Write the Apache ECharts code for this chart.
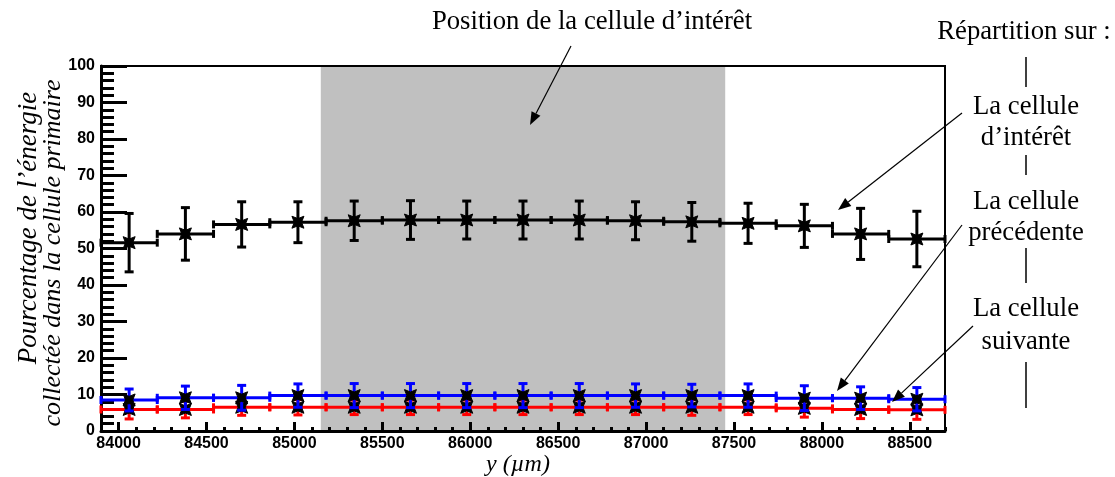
<!DOCTYPE html>
<html><head><meta charset="utf-8">
<script src="https://cdn.jsdelivr.net/npm/echarts@6/dist/echarts.min.js"></script>
<style>html,body{margin:0;padding:0;background:#fff}#c{width:1115px;height:477px}</style>
</head><body><div id="c"></div>
<script>
// ---- data ----
const binCenters = [84060, 84380, 84700, 85020, 85340, 85660, 85980, 86300, 86620, 86940, 87260, 87580, 87900, 88220, 88540];
const binHalfWidth = 160;
const interestValues = [51.6, 54.0, 56.6, 57.2, 57.6, 57.8, 57.8, 57.8, 57.8, 57.6, 57.3, 56.9, 56.2, 54.0, 52.6];
const interestErrors = [8.0, 7.2, 6.2, 5.6, 5.4, 5.3, 5.2, 5.2, 5.2, 5.2, 5.3, 5.5, 5.9, 7.0, 7.6];
const previousValues = [8.5, 9.1, 9.1, 9.7, 9.7, 9.7, 9.7, 9.7, 9.7, 9.7, 9.7, 9.7, 9.0, 9.0, 8.7];
const previousErrors = [3.0, 3.2, 3.4, 3.2, 3.3, 3.3, 3.3, 3.3, 3.3, 3.2, 3.1, 3.2, 3.4, 3.1, 3.2];
const nextValues = [5.9, 5.9, 6.5, 6.5, 6.5, 6.5, 6.5, 6.5, 6.5, 6.5, 6.5, 6.5, 6.2, 5.9, 5.8];
const nextErrors = [2.6, 2.3, 2.2, 2.1, 2.0, 2.0, 2.0, 2.0, 2.0, 2.0, 2.2, 2.0, 2.4, 2.5, 2.6];
const xLabelTicks = [84000, 84500, 85000, 85500, 86000, 86500, 87000, 87500, 88000, 88500];
const cellRange = [85150, 87450];
const xMin = 83900, xMax = 88700;

function rows(vals, errs) { return binCenters.map((c, i) => [c, vals[i], errs[i]]); }

function histRender(color) {
  return function (params, api) {
    const x = api.value(0), y = api.value(1), e = api.value(2);
    const pL = api.coord([x - binHalfWidth, y]);
    const pR = api.coord([x + binHalfWidth, y]);
    const pC = api.coord([x, y]);
    const pT = api.coord([x, y + e]);
    const pB = api.coord([x, y - e]);
    const edge = 4, cap = 4.5, m = 6, w = 3.6;
    const st = (lw) => ({ stroke: color, lineWidth: lw });
    const cx = pC[0], cy = pC[1];
    return {
      type: 'group',
      children: [
        { type: 'line', shape: { x1: pL[0], y1: pL[1], x2: pR[0], y2: pR[1] }, style: st(3) },
        { type: 'line', shape: { x1: pL[0], y1: pL[1] - edge, x2: pL[0], y2: pL[1] + edge }, style: st(3) },
        { type: 'line', shape: { x1: pR[0], y1: pR[1] - edge, x2: pR[0], y2: pR[1] + edge }, style: st(3) },
        { type: 'line', shape: { x1: pT[0], y1: pT[1], x2: pB[0], y2: pB[1] }, style: st(3) },
        { type: 'line', shape: { x1: pT[0] - cap, y1: pT[1], x2: pT[0] + cap, y2: pT[1] }, style: st(3) },
        { type: 'line', shape: { x1: pB[0] - cap, y1: pB[1], x2: pB[0] + cap, y2: pB[1] }, style: st(3) },
        { type: 'polygon', shape: { points: [[cx - m, cy - m], [cx, cy - w], [cx + m, cy - m], [cx + w, cy], [cx + m, cy + m], [cx, cy + w], [cx - m, cy + m], [cx - w, cy]] }, style: { fill: '#000', stroke: '#000', lineWidth: 1 } }
      ]
    };
  };
}

const SERIF = '"Liberation Serif","Times New Roman",serif';
function txt(text, x, y, size, italic, rot) {
  return { type: 'text', x: x, y: y, rotation: rot || 0, z: 50,
    style: { text: text, textAlign: 'center', textVerticalAlign: 'middle', fill: '#000',
      font: (italic ? 'italic ' : '') + size + 'px ' + SERIF } };
}
function vline(x, y1, y2) {
  return { type: 'line', z: 50, shape: { x1: x, y1: y1, x2: x, y2: y2 }, style: { stroke: '#000', lineWidth: 1.5 } };
}
function arrow(x1, y1, x2, y2) {
  const dx = x2 - x1, dy = y2 - y1, L = Math.sqrt(dx * dx + dy * dy);
  const ux = dx / L, uy = dy / L, hl = 13, hw = 5;
  const bx = x2 - ux * hl, by = y2 - uy * hl;
  return [
    { type: 'line', z: 50, shape: { x1: x1, y1: y1, x2: bx, y2: by }, style: { stroke: '#000', lineWidth: 1.2 } },
    { type: 'polygon', z: 50, shape: { points: [[x2, y2], [bx - uy * hw, by + ux * hw], [bx + uy * hw, by - ux * hw]] }, style: { fill: '#000' } }
  ];
}

const chart = echarts.init(document.getElementById('c'), null, { renderer: 'canvas' });
const labelFont = { fontFamily: '"Liberation Sans",Arial,sans-serif', fontWeight: 'bold', fontSize: 16, color: '#000' };
const FS = 26.7;

chart.setOption({
  animation: false,
  backgroundColor: '#fff',
  grid: { left: 101, right: 170, top: 66, bottom: 46, show: true, borderColor: '#000', borderWidth: 2, z: 3 },
  xAxis: [
    { type: 'value', min: xMin, max: xMax, interval: 100, z: 3,
      axisLine: { show: true, lineStyle: { color: '#000', width: 3 } },
      axisTick: { show: true, inside: true, length: 4, lineStyle: { color: '#000', width: 3 } },
      axisLabel: { show: false }, splitLine: { show: false } },
    { type: 'value', min: xMin, max: xMax, position: 'bottom', z: 3,
      axisLine: { show: false },
      axisTick: { show: true, inside: true, length: 9, customValues: xLabelTicks, lineStyle: { color: '#000', width: 3 } },
      axisLabel: Object.assign({ show: true, margin: 5, customValues: xLabelTicks, formatter: v => String(v) }, labelFont),
      splitLine: { show: false } }
  ],
  yAxis: { type: 'value', min: 0, max: 100, interval: 10, z: 3,
    axisLine: { show: true, lineStyle: { color: '#000', width: 3 } },
    axisTick: { show: true, inside: true, length: 26, lineStyle: { color: '#000', width: 3 } },
    minorTick: { show: true, splitNumber: 5, length: 13, lineStyle: { color: '#000', width: 3 } },
    axisLabel: Object.assign({ margin: 6 }, labelFont),
    splitLine: { show: false } },
  series: [
    { type: 'custom', z: 1, data: [cellRange], clip: true,
      renderItem: function (params, api) {
        const a = api.coord([api.value(0), 0]), b = api.coord([api.value(1), 0]);
        const cs = params.coordSys;
        return { type: 'rect', shape: { x: a[0], y: cs.y + 1, width: b[0] - a[0], height: cs.height - 1 }, style: { fill: '#c0c0c0' } };
      } },
    { type: 'custom', name: 'interet', z: 5, data: rows(interestValues, interestErrors), renderItem: histRender('#000000') },
    { type: 'custom', name: 'suivante', z: 6, data: rows(nextValues, nextErrors), renderItem: histRender('#ff0000') },
    { type: 'custom', name: 'precedente', z: 7, data: rows(previousValues, previousErrors), renderItem: histRender('#0000ff') }
  ],
  graphic: [
    txt('Position de la cellule d\u2019intérêt', 592, 22, FS, false),
    ...arrow(571, 46, 530, 125),
    txt('Répartition sur :', 1024, 32, FS, false),
    vline(1026, 57, 87),
    txt('La cellule', 1026, 107, FS, false),
    txt('d\u2019intérêt', 1026, 138, FS, false),
    vline(1026, 155, 175),
    txt('La cellule', 1026, 202, FS, false),
    txt('précédente', 1026, 233, FS, false),
    vline(1026, 248, 283),
    txt('La cellule', 1026, 309, FS, false),
    txt('suivante', 1026, 342, FS, false),
    vline(1026, 362, 408),
    ...arrow(962, 113, 838, 210),
    ...arrow(962, 225, 837, 391),
    ...arrow(973, 326, 892, 402),
    txt('y (\u00b5m)', 518, 465, 24, true),
    txt('Pourcentage de l\u2019énergie', 29, 228, 27, true, Math.PI / 2),
    txt('collectée dans la cellule primaire', 53, 253, 26, true, Math.PI / 2)
  ]
});
</script>
</body></html>
